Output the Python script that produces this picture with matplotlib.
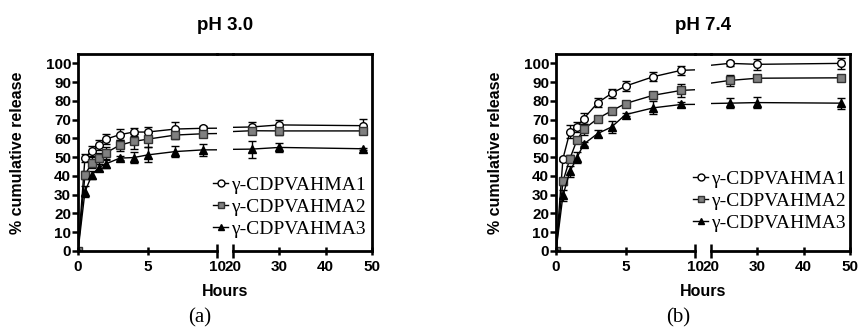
import numpy as np
import matplotlib
matplotlib.use("Agg")
import matplotlib.pyplot as plt
from matplotlib.lines import Line2D
from matplotlib.font_manager import FontProperties

hours = [0, 0.5, 1, 1.5, 2, 3, 4, 5, 7, 9, 24, 30, 48]
labels = ["γ-CDPVAHMA1", "γ-CDPVAHMA2", "γ-CDPVAHMA3"]

# pH 3.0
a1 = [0, 49.5, 53.4, 56.4, 59.6, 62.0, 63.4, 63.4, 65.0, 65.4, 66.1, 67.2, 66.8]
a2 = [0, 40.5, 47.1, 49.5, 52.3, 56.4, 58.4, 59.6, 61.8, 62.5, 64.1, 64.0, 64.0]
a3 = [0, 31.6, 40.5, 44.5, 46.4, 49.5, 49.8, 51.2, 53.0, 53.9, 54.3, 55.2, 54.5]
a1_err = [0, 2, 2.5, 2.5, 2.5, 3, 2, 2.5, 3.5, 1, 2.5, 2.5, 3.5]
a2_err = [0, 2, 3, 3, 3, 3, 4, 4, 2, 2, 1.5, 2, 1.5]
a3_err = [0, 3, 2, 2, 2, 1, 3, 4, 3, 3, 4.5, 2.5, 0.5]

# pH 7.4
b1 = [0, 49.2, 63.5, 66.1, 70.6, 79.0, 84.0, 87.9, 92.9, 96.3, 100.0, 99.5, 100.0]
b2 = [0, 37.1, 49.2, 59.0, 64.9, 70.6, 74.7, 78.6, 83.0, 85.6, 90.9, 92.1, 92.3]
b3 = [0, 29.6, 42.4, 49.7, 57.0, 62.6, 66.1, 72.7, 76.3, 78.1, 78.8, 79.1, 78.8]
b1_err = [0, 1, 3.5, 2.5, 3, 2.5, 2.5, 2.5, 2.5, 2.5, 1.5, 3, 3]
b2_err = [0, 2, 2, 1, 3, 1.5, 1.5, 1.5, 2, 3.5, 3, 1.5, 1.5]
b3_err = [0, 3, 3, 3, 1, 2, 3, 1, 3.5, 1.5, 2.5, 3, 3]

styles = [dict(marker='o', mfc='white', mec='black', ms=5.5),
          dict(marker='s', mfc='#808080', mec='#333333', ms=5.5),
          dict(marker='^', mfc='black', mec='black', ms=6)]

W, H = 858, 329
fig = plt.figure(figsize=(W / 100, H / 100), dpi=100)

tick_fp = FontProperties(family='Liberation Sans', weight='bold', size=11)


def fx(px):
    return px / W


def fy(py):
    return 1 - py / H


def panel(x0, title, panel_label, series, errs, leg_right, leg_bottom):
    top, bottom = 54, 251
    w = 139
    gap = 16
    ax1 = fig.add_axes([fx(x0), fy(bottom), fx(w), (bottom - top) / H])
    ax2 = fig.add_axes([fx(x0 + w + gap), fy(bottom), fx(w), (bottom - top) / H])

    for ax in (ax1, ax2):
        for i, (ys, es) in enumerate(zip(series, errs)):
            ax.errorbar(hours, ys, yerr=es, color='black', lw=1, elinewidth=1,
                        capsize=3, capthick=1, **styles[i])
        ax.set_ylim(0, 105)
        for s in ax.spines.values():
            s.set_linewidth(2)
        ax.tick_params(axis='x', direction='inout', length=5.5, width=1.8, pad=4)
        ax.tick_params(axis='y', direction='out', length=4, width=1.8, pad=1)

    ax1.set_xlim(0, 10)
    ax1.set_xticks([0, 5, 10])
    ax1.set_yticks(range(0, 101, 10))
    ax1.spines['right'].set_visible(False)
    ax1.xaxis.get_major_ticks()[-1].tick1line.set_markersize(9.5)

    ax2.set_xlim(20, 50)
    ax2.set_xticks([20, 30, 40, 50])
    ax2.spines['left'].set_visible(False)
    ax2.tick_params(axis='y', left=False, labelleft=False)
    ax2.xaxis.get_major_ticks()[0].tick1line.set_markersize(9.5)

    for ax in (ax1, ax2):
        for t in ax.get_xticklabels() + ax.get_yticklabels():
            t.set_fontproperties(tick_fp)

    # continuous top frame across the break
    fig.add_artist(Line2D([fx(x0 + w), fx(x0 + w + gap)], [fy(top), fy(top)],
                          color='black', lw=2, transform=fig.transFigure))

    handles = [Line2D([], [], color='black', lw=1, **dict(styles[i], ms=5))
               for i in range(3)]
    fig.legend(handles, labels, loc='lower right',
               bbox_to_anchor=(fx(leg_right), fy(leg_bottom)),
               bbox_transform=fig.transFigure,
               frameon=False, handlelength=0.8, handletextpad=0.15,
               labelspacing=0.22, borderpad=0, borderaxespad=0,
               prop=dict(family='Liberation Serif', size=14))

    cx = x0 + w + gap / 2
    fig.text(fx(cx), fy(25), title, ha='center', va='center',
             family='Liberation Sans', weight='bold', size=13.5)
    fig.text(fx(cx), fy(292), 'Hours', ha='center', va='center',
             family='Liberation Sans', weight='bold', size=11.5)
    fig.text(fx(cx - 25), fy(318), panel_label, ha='center', va='center',
             family='Liberation Serif', size=15)
    fig.text(fx(x0 - 60), fy(153), '% cumulative release', rotation=90,
             ha='center', va='center', family='Liberation Sans',
             weight='bold', size=11.5)


panel(78, 'pH 3.0', '(a)', [a1, a2, a3], [a1_err, a2_err, a3_err], 366, 238)
panel(556, 'pH 7.4', '(b)', [b1, b2, b3], [b1_err, b2_err, b3_err], 846, 232)

fig.savefig('out.png', dpi=100)
